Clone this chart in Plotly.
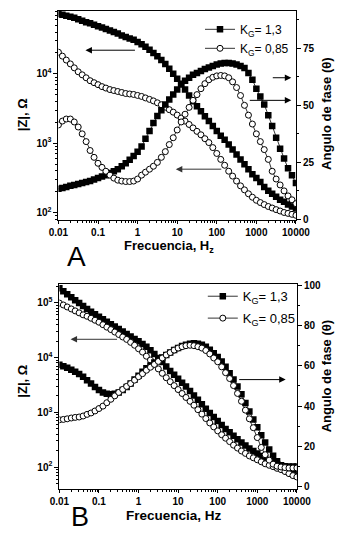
import plotly.graph_objects as go

# ---------------- data ----------------
freq = [0.01, 0.0126, 0.0158, 0.02, 0.0251, 0.0316, 0.0398, 0.0501, 0.0631, 0.0794,
        0.1, 0.126, 0.158, 0.2, 0.251, 0.316, 0.398, 0.501, 0.631, 0.794,
        1, 1.26, 1.58, 2, 2.51, 3.16, 3.98, 5.01, 6.31, 7.94,
        10, 12.6, 15.8, 20, 25.1, 31.6, 39.8, 50.1, 63.1, 79.4,
        100, 126, 158, 200, 251, 316, 398, 501, 631, 794,
        1000, 1260, 1580, 2000, 2510, 3160, 3980, 5010, 6310, 7940,
        10000]

# Panel A
zA_13 = [73000, 71000, 69000, 66500, 64400, 61300, 58300, 55600, 53700, 51200,
         48700, 46400, 44200, 42100, 40100, 38200, 35800, 34000, 32400, 30900,
         28900, 26700, 24600, 22300, 19900, 18000, 15800, 13900, 11800, 10000,
         8490, 7210, 5930, 4880, 4010, 3400, 2890, 2450, 2080, 1770,
         1500, 1280, 1120, 953, 809, 687, 583, 495, 421, 357,
         313, 275, 234, 205, 186, 169, 153, 143, 130, 122,
         114]
phA_13 = [13.4, 13.8, 14.2, 14.7, 15.1, 15.5, 15.9, 16.4, 16.8, 17.5,
          18.1, 18.8, 19.4, 20.3, 21.1, 22.0, 23.3, 24.6, 26.1, 27.8,
          29.7, 31.9, 35.3, 38.8, 42.2, 45.3, 47.8, 50.4, 52.6, 54.7,
          56.9, 59.1, 60.8, 62.1, 63.4, 64.2, 65.1, 65.9, 66.6, 67.2,
          67.9, 68.3, 68.5, 68.5, 68.3, 67.9, 67.2, 66.4, 64.2, 61.2,
          57.3, 53.9, 50.4, 45.7, 40.9, 35.8, 31.0, 26.7, 22.4, 19.4,
          15.9]
zA_085 = [20500, 18000, 15800, 13900, 12200, 10700, 9680, 8770, 7960, 7450,
          6980, 6540, 6230, 5930, 5740, 5560, 5380, 5200, 5120, 5040,
          4880, 4720, 4490, 4280, 4070, 3820, 3580, 3300, 3040, 2800,
          2540, 2300, 2080, 1860, 1660, 1480, 1320, 1160, 1020, 863,
          710, 583, 480, 394, 335, 284, 242, 212, 186, 166,
          150, 139, 130, 122, 116, 110, 105, 100, 97, 94,
          91]
phA_085 = [41.4, 43.1, 44.0, 44.0, 42.7, 40.5, 37.5, 34.1, 30.2, 27.2,
           24.6, 22.8, 21.1, 19.4, 18.1, 17.2, 16.8, 16.6, 16.6, 16.8,
           17.7, 19.4, 20.7, 22.0, 23.3, 25.0, 27.2, 29.7, 32.8, 35.8,
           39.2, 42.7, 46.1, 49.1, 52.2, 54.7, 57.3, 59.5, 61.2, 62.3,
           62.9, 63.1, 62.9, 62.1, 60.3, 57.8, 54.3, 50.0, 45.7, 41.8,
           37.5, 34.1, 30.6, 26.3, 21.1, 17.7, 15.1, 12.5, 10.3, 8.6,
           6.9]

# Panel B
zB_13 = [185000, 163000, 144000, 127000, 112000, 99100, 87600, 77400, 68400, 61700,
         55600, 50100, 45200, 40800, 36800, 33200, 29900, 27000, 24300, 21900,
         19800, 17800, 15700, 13600, 11600, 9800, 8300, 6890, 5720, 4850,
         4110, 3480, 2950, 2450, 2040, 1690, 1400, 1160, 968, 820,
         695, 589, 499, 432, 374, 324, 280, 247, 218, 197,
         178, 160, 145, 133, 123, 113, 104, 95, 88, 81,
         75]
zB_085 = [99100, 91400, 84100, 77400, 71300, 65600, 60400, 56800, 52300, 48100,
          44300, 39900, 36000, 32500, 29300, 26400, 23800, 21500, 19000, 16800,
          14500, 12600, 10600, 9020, 7490, 6220, 5160, 4290, 3630, 3080,
          2610, 2210, 1870, 1590, 1350, 1120, 929, 771, 640, 542,
          459, 390, 337, 292, 252, 223, 197, 178, 160, 148,
          136, 125, 115, 108, 102, 95, 90, 83, 76, 70,
          66]
phB_13 = [60.5, 59.8, 59.0, 58.0, 57.1, 55.9, 54.6, 52.9, 51.2, 49.5,
          48.0, 46.8, 46.1, 45.9, 46.1, 46.8, 48.0, 49.5, 51.2, 53.2,
          55.1, 57.1, 58.8, 60.2, 61.7, 62.9, 64.1, 65.4, 66.6, 67.8,
          68.8, 69.8, 70.5, 71.0, 71.2, 71.0, 70.5, 69.5, 68.0, 66.3,
          64.4, 62.2, 59.5, 56.3, 53.2, 49.8, 45.9, 41.5, 37.3, 33.4,
          29.5, 25.6, 22.0, 18.5, 15.4, 12.7, 10.7, 10.2, 10.0, 10.0,
          10.0]
phB_085 = [33.2, 33.4, 33.7, 34.1, 34.4, 34.6, 35.1, 35.9, 36.6, 37.6,
           38.8, 40.0, 41.7, 43.4, 45.1, 46.8, 48.3, 49.8, 51.2, 52.9,
           54.6, 56.1, 57.8, 59.3, 60.7, 62.2, 63.9, 65.4, 66.6, 67.8,
           68.8, 69.5, 70.0, 70.2, 70.0, 69.5, 68.8, 67.6, 65.9, 63.9,
           62.0, 59.5, 56.6, 53.7, 50.2, 46.3, 42.4, 38.0, 33.7, 29.3,
           24.4, 19.5, 15.9, 13.2, 11.2, 10.2, 9.8, 9.5, 9.3, 9.3,
           9.3]

series_names = ["K<sub>G</sub>= 1,3", "K<sub>G</sub>= 0,85"]
x_tickvals = [0.01, 0.1, 1, 10, 100, 1000, 10000]
x_ticktext = ["0.01", "0.1", "1", "10", "100", "1000", "10000"]
yA_tickvals = [100, 1000, 10000]
yA_ticktext = ["10<sup>2</sup>", "10<sup>3</sup>", "10<sup>4</sup>"]
yB_tickvals = [100, 1000, 10000, 100000]
yB_ticktext = ["10<sup>2</sup>", "10<sup>3</sup>", "10<sup>4</sup>", "10<sup>5</sup>"]
phA_tickvals = [0, 25, 50, 75]
phB_tickvals = [0, 20, 40, 60, 80, 100]

# ---------------- figure ----------------
W, H = 350, 537
FONT = "Liberation Sans"


def px(x):
    return x / W


def py(y):
    return 1 - y / H


filled = dict(symbol="square", size=6.5, color="black", line=dict(width=0))
openc = dict(symbol="circle", size=6, color="white", line=dict(color="black", width=1))
line_style = dict(color="black", width=0.8)

fig = go.Figure()


def add_pair(xa, ya, yb, z13, p13, z085, p085, leg):
    fig.add_trace(go.Scatter(x=freq, y=z13, mode="lines+markers", marker=filled, line=line_style,
                             xaxis=xa, yaxis=ya, name=series_names[0], legend=leg, showlegend=True,
                             legendgroup=leg + "a"))
    fig.add_trace(go.Scatter(x=freq, y=p13, mode="lines+markers", marker=filled, line=line_style,
                             xaxis=xa, yaxis=yb, name=series_names[0], legend=leg, showlegend=False,
                             legendgroup=leg + "a"))
    fig.add_trace(go.Scatter(x=freq, y=z085, mode="lines+markers", marker=openc, line=line_style,
                             xaxis=xa, yaxis=ya, name=series_names[1], legend=leg, showlegend=True,
                             legendgroup=leg + "b"))
    fig.add_trace(go.Scatter(x=freq, y=p085, mode="lines+markers", marker=openc, line=line_style,
                             xaxis=xa, yaxis=yb, name=series_names[1], legend=leg, showlegend=False,
                             legendgroup=leg + "b"))


add_pair("x", "y", "y2", zA_13, phA_13, zA_085, phA_085, "legend")
add_pair("x2", "y3", "y4", zB_13, phB_13, zB_085, phB_085, "legend2")

tickfont = dict(family=FONT, size=10, color="black", weight="bold")
log_minor = [m * 10 ** e for e in range(-2, 6) for m in range(2, 10)]

common = dict(showline=True, linecolor="black", linewidth=1, showgrid=False, zeroline=False,
              ticks="outside", ticklen=4, tickwidth=1, tickcolor="black", tickfont=tickfont)

xcommon = dict(common, type="log", range=[-2, 4.0], tickmode="array", tickvals=x_tickvals,
               ticktext=x_ticktext, mirror=True, ticklen=3,
               minor=dict(ticks="outside", ticklen=2, tickcolor="black", tickvals=log_minor))

fig.update_layout(
    width=W, height=H, autosize=False,
    margin=dict(l=0, r=0, t=0, b=0),
    paper_bgcolor="white", plot_bgcolor="white",
    font=dict(family=FONT, color="black"),
    xaxis=dict(xcommon, domain=[px(52), px(307)], anchor="y"),
    yaxis=dict(common, type="log", domain=[py(220), py(7)], anchor="x", range=[1.887, 4.908],
               tickmode="array", tickvals=yA_tickvals, ticktext=yA_ticktext,
               minor=dict(ticks="outside", ticklen=2, tickcolor="black", tickvals=log_minor)),
    yaxis2=dict(common, overlaying="y", side="right", anchor="x", range=[-0.4, 91.4],
                tickmode="array", tickvals=phA_tickvals,
                minor=dict(ticks="outside", ticklen=2, tickcolor="black", dtick=12.5, tick0=0)),
    xaxis2=dict(xcommon, domain=[px(53), px(308)], anchor="y3"),
    yaxis3=dict(common, type="log", domain=[py(493), py(285)], anchor="x2", range=[1.605, 5.34],
                tickmode="array", tickvals=yB_tickvals, ticktext=yB_ticktext,
                minor=dict(ticks="outside", ticklen=2, tickcolor="black", tickvals=log_minor)),
    yaxis4=dict(common, overlaying="y3", side="right", anchor="x2", range=[-1, 100.5],
                tickmode="array", tickvals=phB_tickvals,
                minor=dict(ticks="outside", ticklen=2, tickcolor="black", dtick=10, tick0=0)),
    legend=dict(x=px(204), y=py(11), xanchor="left", yanchor="top", bgcolor="rgba(0,0,0,0)",
                font=dict(family=FONT, size=12, color="black"), tracegroupgap=0,
                traceorder="grouped", itemwidth=30),
    legend2=dict(x=px(207), y=py(282), xanchor="left", yanchor="top", bgcolor="rgba(0,0,0,0)",
                 font=dict(family=FONT, size=13, color="black"), tracegroupgap=2,
                 traceorder="grouped", itemwidth=30),
)

annos = []
title_font = dict(family=FONT, size=13, color="black", weight="bold")
annos.append(dict(text="|Z|, Ω", x=px(13), y=py(113), textangle=-90, font=title_font))
annos.append(dict(text="|Z|, Ω", x=px(13), y=py(384), textangle=-90, font=title_font))
annos.append(dict(text="Angulo de fase (θ)", x=px(339), y=py(112), textangle=-90, font=title_font))
annos.append(dict(text="Angulo de fase (θ)", x=px(340), y=py(379), textangle=-90, font=title_font))
annos.append(dict(text="Frecuencia, H<sub>z</sub>", x=px(171), y=py(247), font=title_font))
annos.append(dict(text="Frecuencia, Hz", x=px(176), y=py(520), font=dict(title_font, size=13.5)))
annos.append(dict(text="A", x=px(71), y=py(257), font=dict(family=FONT, size=28, color="black")))
annos.append(dict(text="B", x=px(75), y=py(522), font=dict(family=FONT, size=27, color="black")))
for a in annos:
    a.update(xref="paper", yref="paper", showarrow=False, xanchor="center", yanchor="middle")

# arrows: (tail_x, tail_y, head_x, head_y, color)
arrows = [(132, 47, 81, 47, "black"),
          (282, 75, 302, 75, "black"),
          (259, 98, 302, 98, "black"),
          (225, 168, 178, 168, "#333"),
          (113, 341, 65, 341, "#333"),
          (248, 382, 296, 382, "black")]
for tx, ty, hx, hy, c in arrows:
    annos.append(dict(x=px(hx), y=py(hy), ax=tx - hx, ay=ty - hy, xref="paper", yref="paper",
                      axref="pixel", ayref="pixel", showarrow=True, arrowhead=2, arrowsize=1.3,
                      arrowwidth=1, arrowcolor=c, text=""))

fig.update_layout(annotations=annos)
fig.write_html("out.html", config={"displayModeBar": False},
               post_script="document.body.style.margin='0px';document.body.style.overflow='hidden';")
